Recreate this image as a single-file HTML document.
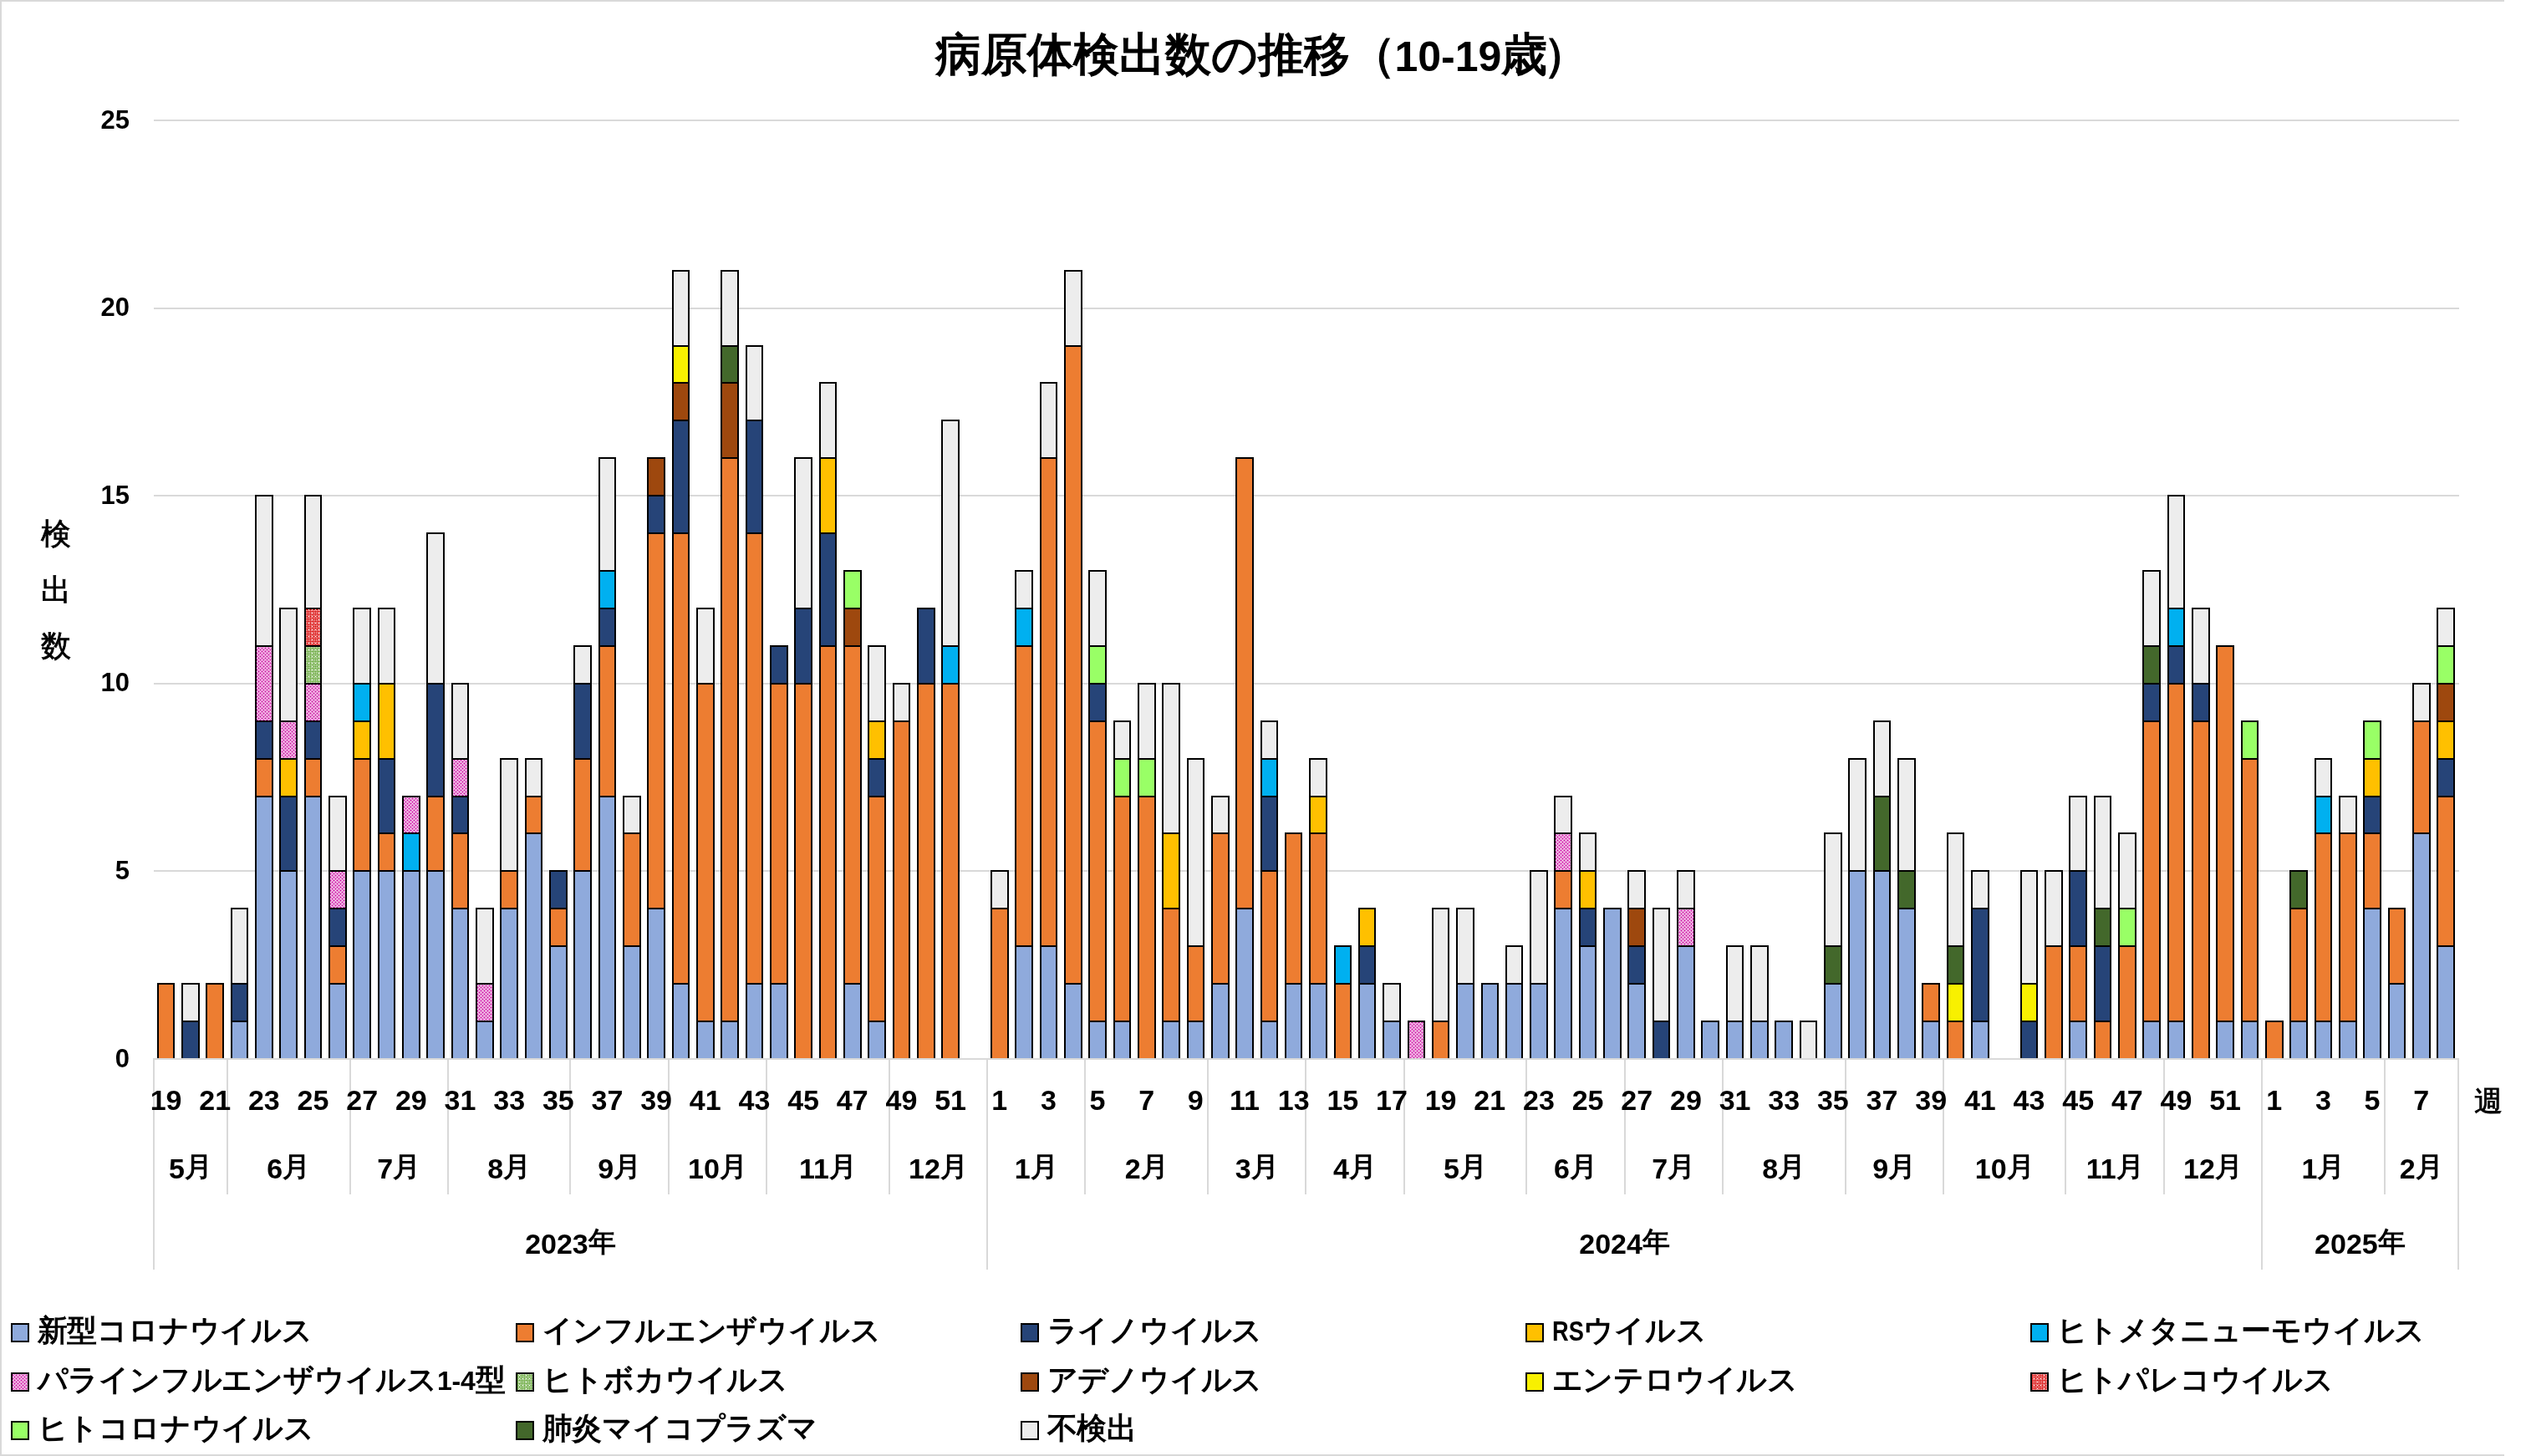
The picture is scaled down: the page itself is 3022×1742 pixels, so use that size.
<!DOCTYPE html>
<html><head><meta charset="utf-8"><title>病原体検出数の推移（10-19歳）</title>
<style>
html,body{margin:0;padding:0;background:#fff;}
body{width:3022px;height:1742px;position:relative;overflow:hidden;font-family:"Liberation Sans",sans-serif;color:#000;}
.t{position:absolute;white-space:nowrap;}
</style></head><body>
<svg width="3022" height="1742" viewBox="0 0 3022 1742" style="position:absolute;left:0;top:0">
<defs>
<pattern id="pPara" width="8" height="8" patternUnits="userSpaceOnUse"><rect width="8" height="8" fill="#D63CB4"/><path d="M0 0h1v1H0zM2 0h1v1H2zM4 0h1v1H4zM6 0h1v1H6zM0 2h1v1H0zM2 2h1v1H2zM4 2h1v1H4zM6 2h1v1H6zM0 4h1v1H0zM2 4h1v1H2zM4 4h1v1H4zM6 4h1v1H6zM0 6h1v1H0zM2 6h1v1H2zM4 6h1v1H4zM6 6h1v1H6zM1 1h1v1H1zM5 1h1v1H5zM3 3h1v1H3zM7 3h1v1H7zM1 5h1v1H1zM5 5h1v1H5zM3 7h1v1H3zM7 7h1v1H7z" fill="#fff"/></pattern>
<pattern id="pBoca" width="8" height="8" patternUnits="userSpaceOnUse"><rect width="8" height="8" fill="#70AD47"/><path d="M0 0h1v1H0zM2 0h1v1H2zM4 0h1v1H4zM6 0h1v1H6zM0 2h1v1H0zM2 2h1v1H2zM4 2h1v1H4zM6 2h1v1H6zM0 4h1v1H0zM2 4h1v1H2zM4 4h1v1H4zM6 4h1v1H6zM0 6h1v1H0zM2 6h1v1H2zM4 6h1v1H4zM6 6h1v1H6zM1 1h1v1H1zM5 1h1v1H5zM5 5h1v1H5z" fill="#fff"/></pattern>
<pattern id="pPareco" width="8" height="8" patternUnits="userSpaceOnUse"><rect width="8" height="8" fill="#DC1A1A"/><path d="M0 0h1v1H0zM2 0h1v1H2zM4 0h1v1H4zM6 0h1v1H6zM0 2h1v1H0zM2 2h1v1H2zM4 2h1v1H4zM6 2h1v1H6zM0 4h1v1H0zM2 4h1v1H2zM4 4h1v1H4zM6 4h1v1H6zM0 6h1v1H0zM2 6h1v1H2zM4 6h1v1H4zM6 6h1v1H6zM1 1h1v1H1zM5 1h1v1H5zM5 5h1v1H5z" fill="#fff"/></pattern>
</defs>
<rect x="0" y="0" width="2996" height="2" fill="#D9D9D9"/>
<rect x="0" y="1740" width="2996" height="2" fill="#D9D9D9"/>
<rect x="0" y="0" width="2" height="1742" fill="#D9D9D9"/>
<rect x="184" y="1041" width="2758" height="2" fill="#D9D9D9"/>
<rect x="184" y="817" width="2758" height="2" fill="#D9D9D9"/>
<rect x="184" y="592" width="2758" height="2" fill="#D9D9D9"/>
<rect x="184" y="368" width="2758" height="2" fill="#D9D9D9"/>
<rect x="184" y="143" width="2758" height="2" fill="#D9D9D9"/>
<rect x="189" y="1177" width="19" height="90" fill="#ED7D31" stroke="#000" stroke-width="2"/>
<rect x="218" y="1222" width="20" height="45" fill="#264478" stroke="#000" stroke-width="2"/>
<rect x="218" y="1177" width="20" height="45" fill="#EDEDED" stroke="#000" stroke-width="2"/>
<rect x="247" y="1177" width="20" height="90" fill="#ED7D31" stroke="#000" stroke-width="2"/>
<rect x="277" y="1222" width="19" height="45" fill="#8FAADC" stroke="#000" stroke-width="2"/>
<rect x="277" y="1177" width="19" height="45" fill="#264478" stroke="#000" stroke-width="2"/>
<rect x="277" y="1087" width="19" height="90" fill="#EDEDED" stroke="#000" stroke-width="2"/>
<rect x="306" y="953" width="20" height="314" fill="#8FAADC" stroke="#000" stroke-width="2"/>
<rect x="306" y="908" width="20" height="45" fill="#ED7D31" stroke="#000" stroke-width="2"/>
<rect x="306" y="863" width="20" height="45" fill="#264478" stroke="#000" stroke-width="2"/>
<rect x="306" y="773" width="20" height="90" fill="url(#pPara)" stroke="#000" stroke-width="2"/>
<rect x="306" y="593" width="20" height="180" fill="#EDEDED" stroke="#000" stroke-width="2"/>
<rect x="335" y="1042" width="20" height="225" fill="#8FAADC" stroke="#000" stroke-width="2"/>
<rect x="335" y="953" width="20" height="89" fill="#264478" stroke="#000" stroke-width="2"/>
<rect x="335" y="908" width="20" height="45" fill="#FFC000" stroke="#000" stroke-width="2"/>
<rect x="335" y="863" width="20" height="45" fill="url(#pPara)" stroke="#000" stroke-width="2"/>
<rect x="335" y="728" width="20" height="135" fill="#EDEDED" stroke="#000" stroke-width="2"/>
<rect x="365" y="953" width="19" height="314" fill="#8FAADC" stroke="#000" stroke-width="2"/>
<rect x="365" y="908" width="19" height="45" fill="#ED7D31" stroke="#000" stroke-width="2"/>
<rect x="365" y="863" width="19" height="45" fill="#264478" stroke="#000" stroke-width="2"/>
<rect x="365" y="818" width="19" height="45" fill="url(#pPara)" stroke="#000" stroke-width="2"/>
<rect x="365" y="773" width="19" height="45" fill="url(#pBoca)" stroke="#000" stroke-width="2"/>
<rect x="365" y="728" width="19" height="45" fill="url(#pPareco)" stroke="#000" stroke-width="2"/>
<rect x="365" y="593" width="19" height="135" fill="#EDEDED" stroke="#000" stroke-width="2"/>
<rect x="394" y="1177" width="20" height="90" fill="#8FAADC" stroke="#000" stroke-width="2"/>
<rect x="394" y="1132" width="20" height="45" fill="#ED7D31" stroke="#000" stroke-width="2"/>
<rect x="394" y="1087" width="20" height="45" fill="#264478" stroke="#000" stroke-width="2"/>
<rect x="394" y="1042" width="20" height="45" fill="url(#pPara)" stroke="#000" stroke-width="2"/>
<rect x="394" y="953" width="20" height="89" fill="#EDEDED" stroke="#000" stroke-width="2"/>
<rect x="423" y="1042" width="20" height="225" fill="#8FAADC" stroke="#000" stroke-width="2"/>
<rect x="423" y="908" width="20" height="134" fill="#ED7D31" stroke="#000" stroke-width="2"/>
<rect x="423" y="863" width="20" height="45" fill="#FFC000" stroke="#000" stroke-width="2"/>
<rect x="423" y="818" width="20" height="45" fill="#00B0F0" stroke="#000" stroke-width="2"/>
<rect x="423" y="728" width="20" height="90" fill="#EDEDED" stroke="#000" stroke-width="2"/>
<rect x="453" y="1042" width="19" height="225" fill="#8FAADC" stroke="#000" stroke-width="2"/>
<rect x="453" y="997" width="19" height="45" fill="#ED7D31" stroke="#000" stroke-width="2"/>
<rect x="453" y="908" width="19" height="89" fill="#264478" stroke="#000" stroke-width="2"/>
<rect x="453" y="818" width="19" height="90" fill="#FFC000" stroke="#000" stroke-width="2"/>
<rect x="453" y="728" width="19" height="90" fill="#EDEDED" stroke="#000" stroke-width="2"/>
<rect x="482" y="1042" width="20" height="225" fill="#8FAADC" stroke="#000" stroke-width="2"/>
<rect x="482" y="997" width="20" height="45" fill="#00B0F0" stroke="#000" stroke-width="2"/>
<rect x="482" y="953" width="20" height="44" fill="url(#pPara)" stroke="#000" stroke-width="2"/>
<rect x="511" y="1042" width="20" height="225" fill="#8FAADC" stroke="#000" stroke-width="2"/>
<rect x="511" y="953" width="20" height="89" fill="#ED7D31" stroke="#000" stroke-width="2"/>
<rect x="511" y="818" width="20" height="135" fill="#264478" stroke="#000" stroke-width="2"/>
<rect x="511" y="638" width="20" height="180" fill="#EDEDED" stroke="#000" stroke-width="2"/>
<rect x="541" y="1087" width="19" height="180" fill="#8FAADC" stroke="#000" stroke-width="2"/>
<rect x="541" y="997" width="19" height="90" fill="#ED7D31" stroke="#000" stroke-width="2"/>
<rect x="541" y="953" width="19" height="44" fill="#264478" stroke="#000" stroke-width="2"/>
<rect x="541" y="908" width="19" height="45" fill="url(#pPara)" stroke="#000" stroke-width="2"/>
<rect x="541" y="818" width="19" height="90" fill="#EDEDED" stroke="#000" stroke-width="2"/>
<rect x="570" y="1222" width="20" height="45" fill="#8FAADC" stroke="#000" stroke-width="2"/>
<rect x="570" y="1177" width="20" height="45" fill="url(#pPara)" stroke="#000" stroke-width="2"/>
<rect x="570" y="1087" width="20" height="90" fill="#EDEDED" stroke="#000" stroke-width="2"/>
<rect x="599" y="1087" width="20" height="180" fill="#8FAADC" stroke="#000" stroke-width="2"/>
<rect x="599" y="1042" width="20" height="45" fill="#ED7D31" stroke="#000" stroke-width="2"/>
<rect x="599" y="908" width="20" height="134" fill="#EDEDED" stroke="#000" stroke-width="2"/>
<rect x="629" y="997" width="19" height="270" fill="#8FAADC" stroke="#000" stroke-width="2"/>
<rect x="629" y="953" width="19" height="44" fill="#ED7D31" stroke="#000" stroke-width="2"/>
<rect x="629" y="908" width="19" height="45" fill="#EDEDED" stroke="#000" stroke-width="2"/>
<rect x="658" y="1132" width="20" height="135" fill="#8FAADC" stroke="#000" stroke-width="2"/>
<rect x="658" y="1087" width="20" height="45" fill="#ED7D31" stroke="#000" stroke-width="2"/>
<rect x="658" y="1042" width="20" height="45" fill="#264478" stroke="#000" stroke-width="2"/>
<rect x="687" y="1042" width="20" height="225" fill="#8FAADC" stroke="#000" stroke-width="2"/>
<rect x="687" y="908" width="20" height="134" fill="#ED7D31" stroke="#000" stroke-width="2"/>
<rect x="687" y="818" width="20" height="90" fill="#264478" stroke="#000" stroke-width="2"/>
<rect x="687" y="773" width="20" height="45" fill="#EDEDED" stroke="#000" stroke-width="2"/>
<rect x="717" y="953" width="19" height="314" fill="#8FAADC" stroke="#000" stroke-width="2"/>
<rect x="717" y="773" width="19" height="180" fill="#ED7D31" stroke="#000" stroke-width="2"/>
<rect x="717" y="728" width="19" height="45" fill="#264478" stroke="#000" stroke-width="2"/>
<rect x="717" y="683" width="19" height="45" fill="#00B0F0" stroke="#000" stroke-width="2"/>
<rect x="717" y="548" width="19" height="135" fill="#EDEDED" stroke="#000" stroke-width="2"/>
<rect x="746" y="1132" width="20" height="135" fill="#8FAADC" stroke="#000" stroke-width="2"/>
<rect x="746" y="997" width="20" height="135" fill="#ED7D31" stroke="#000" stroke-width="2"/>
<rect x="746" y="953" width="20" height="44" fill="#EDEDED" stroke="#000" stroke-width="2"/>
<rect x="775" y="1087" width="20" height="180" fill="#8FAADC" stroke="#000" stroke-width="2"/>
<rect x="775" y="638" width="20" height="449" fill="#ED7D31" stroke="#000" stroke-width="2"/>
<rect x="775" y="593" width="20" height="45" fill="#264478" stroke="#000" stroke-width="2"/>
<rect x="775" y="548" width="20" height="45" fill="#9E480E" stroke="#000" stroke-width="2"/>
<rect x="805" y="1177" width="19" height="90" fill="#8FAADC" stroke="#000" stroke-width="2"/>
<rect x="805" y="638" width="19" height="539" fill="#ED7D31" stroke="#000" stroke-width="2"/>
<rect x="805" y="503" width="19" height="135" fill="#264478" stroke="#000" stroke-width="2"/>
<rect x="805" y="458" width="19" height="45" fill="#9E480E" stroke="#000" stroke-width="2"/>
<rect x="805" y="414" width="19" height="44" fill="#F8F000" stroke="#000" stroke-width="2"/>
<rect x="805" y="324" width="19" height="90" fill="#EDEDED" stroke="#000" stroke-width="2"/>
<rect x="834" y="1222" width="20" height="45" fill="#8FAADC" stroke="#000" stroke-width="2"/>
<rect x="834" y="818" width="20" height="404" fill="#ED7D31" stroke="#000" stroke-width="2"/>
<rect x="834" y="728" width="20" height="90" fill="#EDEDED" stroke="#000" stroke-width="2"/>
<rect x="863" y="1222" width="20" height="45" fill="#8FAADC" stroke="#000" stroke-width="2"/>
<rect x="863" y="548" width="20" height="674" fill="#ED7D31" stroke="#000" stroke-width="2"/>
<rect x="863" y="458" width="20" height="90" fill="#9E480E" stroke="#000" stroke-width="2"/>
<rect x="863" y="414" width="20" height="44" fill="#43682B" stroke="#000" stroke-width="2"/>
<rect x="863" y="324" width="20" height="90" fill="#EDEDED" stroke="#000" stroke-width="2"/>
<rect x="893" y="1177" width="19" height="90" fill="#8FAADC" stroke="#000" stroke-width="2"/>
<rect x="893" y="638" width="19" height="539" fill="#ED7D31" stroke="#000" stroke-width="2"/>
<rect x="893" y="503" width="19" height="135" fill="#264478" stroke="#000" stroke-width="2"/>
<rect x="893" y="414" width="19" height="89" fill="#EDEDED" stroke="#000" stroke-width="2"/>
<rect x="922" y="1177" width="20" height="90" fill="#8FAADC" stroke="#000" stroke-width="2"/>
<rect x="922" y="818" width="20" height="359" fill="#ED7D31" stroke="#000" stroke-width="2"/>
<rect x="922" y="773" width="20" height="45" fill="#264478" stroke="#000" stroke-width="2"/>
<rect x="951" y="818" width="20" height="449" fill="#ED7D31" stroke="#000" stroke-width="2"/>
<rect x="951" y="728" width="20" height="90" fill="#264478" stroke="#000" stroke-width="2"/>
<rect x="951" y="548" width="20" height="180" fill="#EDEDED" stroke="#000" stroke-width="2"/>
<rect x="981" y="773" width="19" height="494" fill="#ED7D31" stroke="#000" stroke-width="2"/>
<rect x="981" y="638" width="19" height="135" fill="#264478" stroke="#000" stroke-width="2"/>
<rect x="981" y="548" width="19" height="90" fill="#FFC000" stroke="#000" stroke-width="2"/>
<rect x="981" y="458" width="19" height="90" fill="#EDEDED" stroke="#000" stroke-width="2"/>
<rect x="1010" y="1177" width="20" height="90" fill="#8FAADC" stroke="#000" stroke-width="2"/>
<rect x="1010" y="773" width="20" height="404" fill="#ED7D31" stroke="#000" stroke-width="2"/>
<rect x="1010" y="728" width="20" height="45" fill="#9E480E" stroke="#000" stroke-width="2"/>
<rect x="1010" y="683" width="20" height="45" fill="#99FF66" stroke="#000" stroke-width="2"/>
<rect x="1039" y="1222" width="20" height="45" fill="#8FAADC" stroke="#000" stroke-width="2"/>
<rect x="1039" y="953" width="20" height="269" fill="#ED7D31" stroke="#000" stroke-width="2"/>
<rect x="1039" y="908" width="20" height="45" fill="#264478" stroke="#000" stroke-width="2"/>
<rect x="1039" y="863" width="20" height="45" fill="#FFC000" stroke="#000" stroke-width="2"/>
<rect x="1039" y="773" width="20" height="90" fill="#EDEDED" stroke="#000" stroke-width="2"/>
<rect x="1069" y="863" width="19" height="404" fill="#ED7D31" stroke="#000" stroke-width="2"/>
<rect x="1069" y="818" width="19" height="45" fill="#EDEDED" stroke="#000" stroke-width="2"/>
<rect x="1098" y="818" width="20" height="449" fill="#ED7D31" stroke="#000" stroke-width="2"/>
<rect x="1098" y="728" width="20" height="90" fill="#264478" stroke="#000" stroke-width="2"/>
<rect x="1127" y="818" width="20" height="449" fill="#ED7D31" stroke="#000" stroke-width="2"/>
<rect x="1127" y="773" width="20" height="45" fill="#00B0F0" stroke="#000" stroke-width="2"/>
<rect x="1127" y="503" width="20" height="270" fill="#EDEDED" stroke="#000" stroke-width="2"/>
<rect x="1186" y="1087" width="20" height="180" fill="#ED7D31" stroke="#000" stroke-width="2"/>
<rect x="1186" y="1042" width="20" height="45" fill="#EDEDED" stroke="#000" stroke-width="2"/>
<rect x="1215" y="1132" width="20" height="135" fill="#8FAADC" stroke="#000" stroke-width="2"/>
<rect x="1215" y="773" width="20" height="359" fill="#ED7D31" stroke="#000" stroke-width="2"/>
<rect x="1215" y="728" width="20" height="45" fill="#00B0F0" stroke="#000" stroke-width="2"/>
<rect x="1215" y="683" width="20" height="45" fill="#EDEDED" stroke="#000" stroke-width="2"/>
<rect x="1245" y="1132" width="19" height="135" fill="#8FAADC" stroke="#000" stroke-width="2"/>
<rect x="1245" y="548" width="19" height="584" fill="#ED7D31" stroke="#000" stroke-width="2"/>
<rect x="1245" y="458" width="19" height="90" fill="#EDEDED" stroke="#000" stroke-width="2"/>
<rect x="1274" y="1177" width="20" height="90" fill="#8FAADC" stroke="#000" stroke-width="2"/>
<rect x="1274" y="414" width="20" height="763" fill="#ED7D31" stroke="#000" stroke-width="2"/>
<rect x="1274" y="324" width="20" height="90" fill="#EDEDED" stroke="#000" stroke-width="2"/>
<rect x="1303" y="1222" width="20" height="45" fill="#8FAADC" stroke="#000" stroke-width="2"/>
<rect x="1303" y="863" width="20" height="359" fill="#ED7D31" stroke="#000" stroke-width="2"/>
<rect x="1303" y="818" width="20" height="45" fill="#264478" stroke="#000" stroke-width="2"/>
<rect x="1303" y="773" width="20" height="45" fill="#99FF66" stroke="#000" stroke-width="2"/>
<rect x="1303" y="683" width="20" height="90" fill="#EDEDED" stroke="#000" stroke-width="2"/>
<rect x="1333" y="1222" width="19" height="45" fill="#8FAADC" stroke="#000" stroke-width="2"/>
<rect x="1333" y="953" width="19" height="269" fill="#ED7D31" stroke="#000" stroke-width="2"/>
<rect x="1333" y="908" width="19" height="45" fill="#99FF66" stroke="#000" stroke-width="2"/>
<rect x="1333" y="863" width="19" height="45" fill="#EDEDED" stroke="#000" stroke-width="2"/>
<rect x="1362" y="953" width="20" height="314" fill="#ED7D31" stroke="#000" stroke-width="2"/>
<rect x="1362" y="908" width="20" height="45" fill="#99FF66" stroke="#000" stroke-width="2"/>
<rect x="1362" y="818" width="20" height="90" fill="#EDEDED" stroke="#000" stroke-width="2"/>
<rect x="1391" y="1222" width="20" height="45" fill="#8FAADC" stroke="#000" stroke-width="2"/>
<rect x="1391" y="1087" width="20" height="135" fill="#ED7D31" stroke="#000" stroke-width="2"/>
<rect x="1391" y="997" width="20" height="90" fill="#FFC000" stroke="#000" stroke-width="2"/>
<rect x="1391" y="818" width="20" height="179" fill="#EDEDED" stroke="#000" stroke-width="2"/>
<rect x="1421" y="1222" width="19" height="45" fill="#8FAADC" stroke="#000" stroke-width="2"/>
<rect x="1421" y="1132" width="19" height="90" fill="#ED7D31" stroke="#000" stroke-width="2"/>
<rect x="1421" y="908" width="19" height="224" fill="#EDEDED" stroke="#000" stroke-width="2"/>
<rect x="1450" y="1177" width="20" height="90" fill="#8FAADC" stroke="#000" stroke-width="2"/>
<rect x="1450" y="997" width="20" height="180" fill="#ED7D31" stroke="#000" stroke-width="2"/>
<rect x="1450" y="953" width="20" height="44" fill="#EDEDED" stroke="#000" stroke-width="2"/>
<rect x="1479" y="1087" width="20" height="180" fill="#8FAADC" stroke="#000" stroke-width="2"/>
<rect x="1479" y="548" width="20" height="539" fill="#ED7D31" stroke="#000" stroke-width="2"/>
<rect x="1509" y="1222" width="19" height="45" fill="#8FAADC" stroke="#000" stroke-width="2"/>
<rect x="1509" y="1042" width="19" height="180" fill="#ED7D31" stroke="#000" stroke-width="2"/>
<rect x="1509" y="953" width="19" height="89" fill="#264478" stroke="#000" stroke-width="2"/>
<rect x="1509" y="908" width="19" height="45" fill="#00B0F0" stroke="#000" stroke-width="2"/>
<rect x="1509" y="863" width="19" height="45" fill="#EDEDED" stroke="#000" stroke-width="2"/>
<rect x="1538" y="1177" width="19" height="90" fill="#8FAADC" stroke="#000" stroke-width="2"/>
<rect x="1538" y="997" width="19" height="180" fill="#ED7D31" stroke="#000" stroke-width="2"/>
<rect x="1567" y="1177" width="20" height="90" fill="#8FAADC" stroke="#000" stroke-width="2"/>
<rect x="1567" y="997" width="20" height="180" fill="#ED7D31" stroke="#000" stroke-width="2"/>
<rect x="1567" y="953" width="20" height="44" fill="#FFC000" stroke="#000" stroke-width="2"/>
<rect x="1567" y="908" width="20" height="45" fill="#EDEDED" stroke="#000" stroke-width="2"/>
<rect x="1597" y="1177" width="19" height="90" fill="#ED7D31" stroke="#000" stroke-width="2"/>
<rect x="1597" y="1132" width="19" height="45" fill="#00B0F0" stroke="#000" stroke-width="2"/>
<rect x="1626" y="1177" width="19" height="90" fill="#8FAADC" stroke="#000" stroke-width="2"/>
<rect x="1626" y="1132" width="19" height="45" fill="#264478" stroke="#000" stroke-width="2"/>
<rect x="1626" y="1087" width="19" height="45" fill="#FFC000" stroke="#000" stroke-width="2"/>
<rect x="1655" y="1222" width="20" height="45" fill="#8FAADC" stroke="#000" stroke-width="2"/>
<rect x="1655" y="1177" width="20" height="45" fill="#EDEDED" stroke="#000" stroke-width="2"/>
<rect x="1685" y="1222" width="19" height="45" fill="url(#pPara)" stroke="#000" stroke-width="2"/>
<rect x="1714" y="1222" width="19" height="45" fill="#ED7D31" stroke="#000" stroke-width="2"/>
<rect x="1714" y="1087" width="19" height="135" fill="#EDEDED" stroke="#000" stroke-width="2"/>
<rect x="1743" y="1177" width="20" height="90" fill="#8FAADC" stroke="#000" stroke-width="2"/>
<rect x="1743" y="1087" width="20" height="90" fill="#EDEDED" stroke="#000" stroke-width="2"/>
<rect x="1773" y="1177" width="19" height="90" fill="#8FAADC" stroke="#000" stroke-width="2"/>
<rect x="1802" y="1177" width="19" height="90" fill="#8FAADC" stroke="#000" stroke-width="2"/>
<rect x="1802" y="1132" width="19" height="45" fill="#EDEDED" stroke="#000" stroke-width="2"/>
<rect x="1831" y="1177" width="20" height="90" fill="#8FAADC" stroke="#000" stroke-width="2"/>
<rect x="1831" y="1042" width="20" height="135" fill="#EDEDED" stroke="#000" stroke-width="2"/>
<rect x="1860" y="1087" width="20" height="180" fill="#8FAADC" stroke="#000" stroke-width="2"/>
<rect x="1860" y="1042" width="20" height="45" fill="#ED7D31" stroke="#000" stroke-width="2"/>
<rect x="1860" y="997" width="20" height="45" fill="url(#pPara)" stroke="#000" stroke-width="2"/>
<rect x="1860" y="953" width="20" height="44" fill="#EDEDED" stroke="#000" stroke-width="2"/>
<rect x="1890" y="1132" width="19" height="135" fill="#8FAADC" stroke="#000" stroke-width="2"/>
<rect x="1890" y="1087" width="19" height="45" fill="#264478" stroke="#000" stroke-width="2"/>
<rect x="1890" y="1042" width="19" height="45" fill="#FFC000" stroke="#000" stroke-width="2"/>
<rect x="1890" y="997" width="19" height="45" fill="#EDEDED" stroke="#000" stroke-width="2"/>
<rect x="1919" y="1087" width="20" height="180" fill="#8FAADC" stroke="#000" stroke-width="2"/>
<rect x="1948" y="1177" width="20" height="90" fill="#8FAADC" stroke="#000" stroke-width="2"/>
<rect x="1948" y="1132" width="20" height="45" fill="#264478" stroke="#000" stroke-width="2"/>
<rect x="1948" y="1087" width="20" height="45" fill="#9E480E" stroke="#000" stroke-width="2"/>
<rect x="1948" y="1042" width="20" height="45" fill="#EDEDED" stroke="#000" stroke-width="2"/>
<rect x="1978" y="1222" width="19" height="45" fill="#264478" stroke="#000" stroke-width="2"/>
<rect x="1978" y="1087" width="19" height="135" fill="#EDEDED" stroke="#000" stroke-width="2"/>
<rect x="2007" y="1132" width="20" height="135" fill="#8FAADC" stroke="#000" stroke-width="2"/>
<rect x="2007" y="1087" width="20" height="45" fill="url(#pPara)" stroke="#000" stroke-width="2"/>
<rect x="2007" y="1042" width="20" height="45" fill="#EDEDED" stroke="#000" stroke-width="2"/>
<rect x="2036" y="1222" width="20" height="45" fill="#8FAADC" stroke="#000" stroke-width="2"/>
<rect x="2066" y="1222" width="19" height="45" fill="#8FAADC" stroke="#000" stroke-width="2"/>
<rect x="2066" y="1132" width="19" height="90" fill="#EDEDED" stroke="#000" stroke-width="2"/>
<rect x="2095" y="1222" width="20" height="45" fill="#8FAADC" stroke="#000" stroke-width="2"/>
<rect x="2095" y="1132" width="20" height="90" fill="#EDEDED" stroke="#000" stroke-width="2"/>
<rect x="2124" y="1222" width="20" height="45" fill="#8FAADC" stroke="#000" stroke-width="2"/>
<rect x="2154" y="1222" width="19" height="45" fill="#EDEDED" stroke="#000" stroke-width="2"/>
<rect x="2183" y="1177" width="20" height="90" fill="#8FAADC" stroke="#000" stroke-width="2"/>
<rect x="2183" y="1132" width="20" height="45" fill="#43682B" stroke="#000" stroke-width="2"/>
<rect x="2183" y="997" width="20" height="135" fill="#EDEDED" stroke="#000" stroke-width="2"/>
<rect x="2212" y="1042" width="20" height="225" fill="#8FAADC" stroke="#000" stroke-width="2"/>
<rect x="2212" y="908" width="20" height="134" fill="#EDEDED" stroke="#000" stroke-width="2"/>
<rect x="2242" y="1042" width="19" height="225" fill="#8FAADC" stroke="#000" stroke-width="2"/>
<rect x="2242" y="953" width="19" height="89" fill="#43682B" stroke="#000" stroke-width="2"/>
<rect x="2242" y="863" width="19" height="90" fill="#EDEDED" stroke="#000" stroke-width="2"/>
<rect x="2271" y="1087" width="20" height="180" fill="#8FAADC" stroke="#000" stroke-width="2"/>
<rect x="2271" y="1042" width="20" height="45" fill="#43682B" stroke="#000" stroke-width="2"/>
<rect x="2271" y="908" width="20" height="134" fill="#EDEDED" stroke="#000" stroke-width="2"/>
<rect x="2300" y="1222" width="20" height="45" fill="#8FAADC" stroke="#000" stroke-width="2"/>
<rect x="2300" y="1177" width="20" height="45" fill="#ED7D31" stroke="#000" stroke-width="2"/>
<rect x="2330" y="1222" width="19" height="45" fill="#ED7D31" stroke="#000" stroke-width="2"/>
<rect x="2330" y="1177" width="19" height="45" fill="#F8F000" stroke="#000" stroke-width="2"/>
<rect x="2330" y="1132" width="19" height="45" fill="#43682B" stroke="#000" stroke-width="2"/>
<rect x="2330" y="997" width="19" height="135" fill="#EDEDED" stroke="#000" stroke-width="2"/>
<rect x="2359" y="1222" width="20" height="45" fill="#8FAADC" stroke="#000" stroke-width="2"/>
<rect x="2359" y="1087" width="20" height="135" fill="#264478" stroke="#000" stroke-width="2"/>
<rect x="2359" y="1042" width="20" height="45" fill="#EDEDED" stroke="#000" stroke-width="2"/>
<rect x="2418" y="1222" width="19" height="45" fill="#264478" stroke="#000" stroke-width="2"/>
<rect x="2418" y="1177" width="19" height="45" fill="#F8F000" stroke="#000" stroke-width="2"/>
<rect x="2418" y="1042" width="19" height="135" fill="#EDEDED" stroke="#000" stroke-width="2"/>
<rect x="2447" y="1132" width="20" height="135" fill="#ED7D31" stroke="#000" stroke-width="2"/>
<rect x="2447" y="1042" width="20" height="90" fill="#EDEDED" stroke="#000" stroke-width="2"/>
<rect x="2476" y="1222" width="20" height="45" fill="#8FAADC" stroke="#000" stroke-width="2"/>
<rect x="2476" y="1132" width="20" height="90" fill="#ED7D31" stroke="#000" stroke-width="2"/>
<rect x="2476" y="1042" width="20" height="90" fill="#264478" stroke="#000" stroke-width="2"/>
<rect x="2476" y="953" width="20" height="89" fill="#EDEDED" stroke="#000" stroke-width="2"/>
<rect x="2506" y="1222" width="19" height="45" fill="#ED7D31" stroke="#000" stroke-width="2"/>
<rect x="2506" y="1132" width="19" height="90" fill="#264478" stroke="#000" stroke-width="2"/>
<rect x="2506" y="1087" width="19" height="45" fill="#43682B" stroke="#000" stroke-width="2"/>
<rect x="2506" y="953" width="19" height="134" fill="#EDEDED" stroke="#000" stroke-width="2"/>
<rect x="2535" y="1132" width="20" height="135" fill="#ED7D31" stroke="#000" stroke-width="2"/>
<rect x="2535" y="1087" width="20" height="45" fill="#99FF66" stroke="#000" stroke-width="2"/>
<rect x="2535" y="997" width="20" height="90" fill="#EDEDED" stroke="#000" stroke-width="2"/>
<rect x="2564" y="1222" width="20" height="45" fill="#8FAADC" stroke="#000" stroke-width="2"/>
<rect x="2564" y="863" width="20" height="359" fill="#ED7D31" stroke="#000" stroke-width="2"/>
<rect x="2564" y="818" width="20" height="45" fill="#264478" stroke="#000" stroke-width="2"/>
<rect x="2564" y="773" width="20" height="45" fill="#43682B" stroke="#000" stroke-width="2"/>
<rect x="2564" y="683" width="20" height="90" fill="#EDEDED" stroke="#000" stroke-width="2"/>
<rect x="2594" y="1222" width="19" height="45" fill="#8FAADC" stroke="#000" stroke-width="2"/>
<rect x="2594" y="818" width="19" height="404" fill="#ED7D31" stroke="#000" stroke-width="2"/>
<rect x="2594" y="773" width="19" height="45" fill="#264478" stroke="#000" stroke-width="2"/>
<rect x="2594" y="728" width="19" height="45" fill="#00B0F0" stroke="#000" stroke-width="2"/>
<rect x="2594" y="593" width="19" height="135" fill="#EDEDED" stroke="#000" stroke-width="2"/>
<rect x="2623" y="863" width="20" height="404" fill="#ED7D31" stroke="#000" stroke-width="2"/>
<rect x="2623" y="818" width="20" height="45" fill="#264478" stroke="#000" stroke-width="2"/>
<rect x="2623" y="728" width="20" height="90" fill="#EDEDED" stroke="#000" stroke-width="2"/>
<rect x="2652" y="1222" width="20" height="45" fill="#8FAADC" stroke="#000" stroke-width="2"/>
<rect x="2652" y="773" width="20" height="449" fill="#ED7D31" stroke="#000" stroke-width="2"/>
<rect x="2682" y="1222" width="19" height="45" fill="#8FAADC" stroke="#000" stroke-width="2"/>
<rect x="2682" y="908" width="19" height="314" fill="#ED7D31" stroke="#000" stroke-width="2"/>
<rect x="2682" y="863" width="19" height="45" fill="#99FF66" stroke="#000" stroke-width="2"/>
<rect x="2711" y="1222" width="20" height="45" fill="#ED7D31" stroke="#000" stroke-width="2"/>
<rect x="2740" y="1222" width="20" height="45" fill="#8FAADC" stroke="#000" stroke-width="2"/>
<rect x="2740" y="1087" width="20" height="135" fill="#ED7D31" stroke="#000" stroke-width="2"/>
<rect x="2740" y="1042" width="20" height="45" fill="#43682B" stroke="#000" stroke-width="2"/>
<rect x="2770" y="1222" width="19" height="45" fill="#8FAADC" stroke="#000" stroke-width="2"/>
<rect x="2770" y="997" width="19" height="225" fill="#ED7D31" stroke="#000" stroke-width="2"/>
<rect x="2770" y="953" width="19" height="44" fill="#00B0F0" stroke="#000" stroke-width="2"/>
<rect x="2770" y="908" width="19" height="45" fill="#EDEDED" stroke="#000" stroke-width="2"/>
<rect x="2799" y="1222" width="20" height="45" fill="#8FAADC" stroke="#000" stroke-width="2"/>
<rect x="2799" y="997" width="20" height="225" fill="#ED7D31" stroke="#000" stroke-width="2"/>
<rect x="2799" y="953" width="20" height="44" fill="#EDEDED" stroke="#000" stroke-width="2"/>
<rect x="2828" y="1087" width="20" height="180" fill="#8FAADC" stroke="#000" stroke-width="2"/>
<rect x="2828" y="997" width="20" height="90" fill="#ED7D31" stroke="#000" stroke-width="2"/>
<rect x="2828" y="953" width="20" height="44" fill="#264478" stroke="#000" stroke-width="2"/>
<rect x="2828" y="908" width="20" height="45" fill="#FFC000" stroke="#000" stroke-width="2"/>
<rect x="2828" y="863" width="20" height="45" fill="#99FF66" stroke="#000" stroke-width="2"/>
<rect x="2858" y="1177" width="19" height="90" fill="#8FAADC" stroke="#000" stroke-width="2"/>
<rect x="2858" y="1087" width="19" height="90" fill="#ED7D31" stroke="#000" stroke-width="2"/>
<rect x="2887" y="997" width="20" height="270" fill="#8FAADC" stroke="#000" stroke-width="2"/>
<rect x="2887" y="863" width="20" height="134" fill="#ED7D31" stroke="#000" stroke-width="2"/>
<rect x="2887" y="818" width="20" height="45" fill="#EDEDED" stroke="#000" stroke-width="2"/>
<rect x="2916" y="1132" width="20" height="135" fill="#8FAADC" stroke="#000" stroke-width="2"/>
<rect x="2916" y="953" width="20" height="179" fill="#ED7D31" stroke="#000" stroke-width="2"/>
<rect x="2916" y="908" width="20" height="45" fill="#264478" stroke="#000" stroke-width="2"/>
<rect x="2916" y="863" width="20" height="45" fill="#FFC000" stroke="#000" stroke-width="2"/>
<rect x="2916" y="818" width="20" height="45" fill="#9E480E" stroke="#000" stroke-width="2"/>
<rect x="2916" y="773" width="20" height="45" fill="#99FF66" stroke="#000" stroke-width="2"/>
<rect x="2916" y="728" width="20" height="45" fill="#EDEDED" stroke="#000" stroke-width="2"/>
<rect x="183" y="1266" width="2759" height="2" fill="#D9D9D9"/>
<rect x="271" y="1268" width="2" height="161" fill="#D9D9D9"/>
<rect x="418" y="1268" width="2" height="161" fill="#D9D9D9"/>
<rect x="535" y="1268" width="2" height="161" fill="#D9D9D9"/>
<rect x="681" y="1268" width="2" height="161" fill="#D9D9D9"/>
<rect x="799" y="1268" width="2" height="161" fill="#D9D9D9"/>
<rect x="916" y="1268" width="2" height="161" fill="#D9D9D9"/>
<rect x="1063" y="1268" width="2" height="161" fill="#D9D9D9"/>
<rect x="1297" y="1268" width="2" height="161" fill="#D9D9D9"/>
<rect x="1444" y="1268" width="2" height="161" fill="#D9D9D9"/>
<rect x="1561" y="1268" width="2" height="161" fill="#D9D9D9"/>
<rect x="1679" y="1268" width="2" height="161" fill="#D9D9D9"/>
<rect x="1825" y="1268" width="2" height="161" fill="#D9D9D9"/>
<rect x="1943" y="1268" width="2" height="161" fill="#D9D9D9"/>
<rect x="2060" y="1268" width="2" height="161" fill="#D9D9D9"/>
<rect x="2207" y="1268" width="2" height="161" fill="#D9D9D9"/>
<rect x="2324" y="1268" width="2" height="161" fill="#D9D9D9"/>
<rect x="2470" y="1268" width="2" height="161" fill="#D9D9D9"/>
<rect x="2588" y="1268" width="2" height="161" fill="#D9D9D9"/>
<rect x="2852" y="1268" width="2" height="161" fill="#D9D9D9"/>
<rect x="183" y="1268" width="2" height="251" fill="#D9D9D9"/>
<rect x="1180" y="1268" width="2" height="251" fill="#D9D9D9"/>
<rect x="2705" y="1268" width="2" height="251" fill="#D9D9D9"/>
<rect x="2940" y="1268" width="2" height="251" fill="#D9D9D9"/>
<rect x="14" y="1584" width="20" height="21" fill="#8FAADC" stroke="#000" stroke-width="2"/>
<rect x="618" y="1584" width="20" height="21" fill="#ED7D31" stroke="#000" stroke-width="2"/>
<rect x="1222" y="1584" width="20" height="21" fill="#264478" stroke="#000" stroke-width="2"/>
<rect x="1826" y="1584" width="20" height="21" fill="#FFC000" stroke="#000" stroke-width="2"/>
<rect x="2430" y="1584" width="20" height="21" fill="#00B0F0" stroke="#000" stroke-width="2"/>
<rect x="14" y="1643" width="20" height="21" fill="url(#pPara)" stroke="#000" stroke-width="2"/>
<rect x="618" y="1643" width="20" height="21" fill="url(#pBoca)" stroke="#000" stroke-width="2"/>
<rect x="1222" y="1643" width="20" height="21" fill="#9E480E" stroke="#000" stroke-width="2"/>
<rect x="1826" y="1643" width="20" height="21" fill="#F8F000" stroke="#000" stroke-width="2"/>
<rect x="2430" y="1643" width="20" height="21" fill="url(#pPareco)" stroke="#000" stroke-width="2"/>
<rect x="14" y="1701" width="20" height="21" fill="#99FF66" stroke="#000" stroke-width="2"/>
<rect x="618" y="1701" width="20" height="21" fill="#43682B" stroke="#000" stroke-width="2"/>
<rect x="1222" y="1701" width="20" height="21" fill="#EDEDED" stroke="#000" stroke-width="2"/>
</svg>
<div style="position:absolute;left:0;top:0;width:3022px;height:1742px;will-change:transform">
<div class="t" style="left:1119px;top:9.5px;width:1000px;height:110px;line-height:110px;font-size:55px;font-weight:bold;text-align:left;">病原体検出数の推移（<span style="font-size:50px;position:relative;top:1.5px;margin-left:-1.5px">10-19</span>歳<span style="margin-left:-5px">）</span></div>
<div class="t" style="left:55px;top:1235.5px;width:100px;height:62px;line-height:62px;font-size:31px;font-weight:bold;text-align:right;">0</div>
<div class="t" style="left:55px;top:1010.9px;width:100px;height:62px;line-height:62px;font-size:31px;font-weight:bold;text-align:right;">5</div>
<div class="t" style="left:55px;top:786.3px;width:100px;height:62px;line-height:62px;font-size:31px;font-weight:bold;text-align:right;">10</div>
<div class="t" style="left:55px;top:561.7px;width:100px;height:62px;line-height:62px;font-size:31px;font-weight:bold;text-align:right;">15</div>
<div class="t" style="left:55px;top:337.1px;width:100px;height:62px;line-height:62px;font-size:31px;font-weight:bold;text-align:right;">20</div>
<div class="t" style="left:55px;top:112.5px;width:100px;height:62px;line-height:62px;font-size:31px;font-weight:bold;text-align:right;">25</div>
<div class="t" style="left:37.2px;top:602.5px;width:60px;height:72px;line-height:72px;font-size:36px;font-weight:normal;text-align:center;-webkit-text-stroke:0.8px #000;">検</div>
<div class="t" style="left:37.2px;top:669.7px;width:60px;height:72px;line-height:72px;font-size:36px;font-weight:normal;text-align:center;-webkit-text-stroke:0.8px #000;">出</div>
<div class="t" style="left:37.2px;top:736.6px;width:60px;height:72px;line-height:72px;font-size:36px;font-weight:normal;text-align:center;-webkit-text-stroke:0.8px #000;">数</div>
<div class="t" style="left:168.56px;top:1282px;width:60px;height:68px;line-height:68px;font-size:34px;font-weight:bold;text-align:center;">19</div>
<div class="t" style="left:227.22px;top:1282px;width:60px;height:68px;line-height:68px;font-size:34px;font-weight:bold;text-align:center;">21</div>
<div class="t" style="left:285.88px;top:1282px;width:60px;height:68px;line-height:68px;font-size:34px;font-weight:bold;text-align:center;">23</div>
<div class="t" style="left:344.53px;top:1282px;width:60px;height:68px;line-height:68px;font-size:34px;font-weight:bold;text-align:center;">25</div>
<div class="t" style="left:403.19px;top:1282px;width:60px;height:68px;line-height:68px;font-size:34px;font-weight:bold;text-align:center;">27</div>
<div class="t" style="left:461.84px;top:1282px;width:60px;height:68px;line-height:68px;font-size:34px;font-weight:bold;text-align:center;">29</div>
<div class="t" style="left:520.5px;top:1282px;width:60px;height:68px;line-height:68px;font-size:34px;font-weight:bold;text-align:center;">31</div>
<div class="t" style="left:579.16px;top:1282px;width:60px;height:68px;line-height:68px;font-size:34px;font-weight:bold;text-align:center;">33</div>
<div class="t" style="left:637.81px;top:1282px;width:60px;height:68px;line-height:68px;font-size:34px;font-weight:bold;text-align:center;">35</div>
<div class="t" style="left:696.47px;top:1282px;width:60px;height:68px;line-height:68px;font-size:34px;font-weight:bold;text-align:center;">37</div>
<div class="t" style="left:755.12px;top:1282px;width:60px;height:68px;line-height:68px;font-size:34px;font-weight:bold;text-align:center;">39</div>
<div class="t" style="left:813.78px;top:1282px;width:60px;height:68px;line-height:68px;font-size:34px;font-weight:bold;text-align:center;">41</div>
<div class="t" style="left:872.44px;top:1282px;width:60px;height:68px;line-height:68px;font-size:34px;font-weight:bold;text-align:center;">43</div>
<div class="t" style="left:931.09px;top:1282px;width:60px;height:68px;line-height:68px;font-size:34px;font-weight:bold;text-align:center;">45</div>
<div class="t" style="left:989.75px;top:1282px;width:60px;height:68px;line-height:68px;font-size:34px;font-weight:bold;text-align:center;">47</div>
<div class="t" style="left:1048.4px;top:1282px;width:60px;height:68px;line-height:68px;font-size:34px;font-weight:bold;text-align:center;">49</div>
<div class="t" style="left:1107.06px;top:1282px;width:60px;height:68px;line-height:68px;font-size:34px;font-weight:bold;text-align:center;">51</div>
<div class="t" style="left:1165.72px;top:1282px;width:60px;height:68px;line-height:68px;font-size:34px;font-weight:bold;text-align:center;">1</div>
<div class="t" style="left:1224.37px;top:1282px;width:60px;height:68px;line-height:68px;font-size:34px;font-weight:bold;text-align:center;">3</div>
<div class="t" style="left:1283.03px;top:1282px;width:60px;height:68px;line-height:68px;font-size:34px;font-weight:bold;text-align:center;">5</div>
<div class="t" style="left:1341.68px;top:1282px;width:60px;height:68px;line-height:68px;font-size:34px;font-weight:bold;text-align:center;">7</div>
<div class="t" style="left:1400.34px;top:1282px;width:60px;height:68px;line-height:68px;font-size:34px;font-weight:bold;text-align:center;">9</div>
<div class="t" style="left:1459px;top:1282px;width:60px;height:68px;line-height:68px;font-size:34px;font-weight:bold;text-align:center;">11</div>
<div class="t" style="left:1517.65px;top:1282px;width:60px;height:68px;line-height:68px;font-size:34px;font-weight:bold;text-align:center;">13</div>
<div class="t" style="left:1576.31px;top:1282px;width:60px;height:68px;line-height:68px;font-size:34px;font-weight:bold;text-align:center;">15</div>
<div class="t" style="left:1634.96px;top:1282px;width:60px;height:68px;line-height:68px;font-size:34px;font-weight:bold;text-align:center;">17</div>
<div class="t" style="left:1693.62px;top:1282px;width:60px;height:68px;line-height:68px;font-size:34px;font-weight:bold;text-align:center;">19</div>
<div class="t" style="left:1752.28px;top:1282px;width:60px;height:68px;line-height:68px;font-size:34px;font-weight:bold;text-align:center;">21</div>
<div class="t" style="left:1810.93px;top:1282px;width:60px;height:68px;line-height:68px;font-size:34px;font-weight:bold;text-align:center;">23</div>
<div class="t" style="left:1869.59px;top:1282px;width:60px;height:68px;line-height:68px;font-size:34px;font-weight:bold;text-align:center;">25</div>
<div class="t" style="left:1928.24px;top:1282px;width:60px;height:68px;line-height:68px;font-size:34px;font-weight:bold;text-align:center;">27</div>
<div class="t" style="left:1986.9px;top:1282px;width:60px;height:68px;line-height:68px;font-size:34px;font-weight:bold;text-align:center;">29</div>
<div class="t" style="left:2045.56px;top:1282px;width:60px;height:68px;line-height:68px;font-size:34px;font-weight:bold;text-align:center;">31</div>
<div class="t" style="left:2104.21px;top:1282px;width:60px;height:68px;line-height:68px;font-size:34px;font-weight:bold;text-align:center;">33</div>
<div class="t" style="left:2162.87px;top:1282px;width:60px;height:68px;line-height:68px;font-size:34px;font-weight:bold;text-align:center;">35</div>
<div class="t" style="left:2221.52px;top:1282px;width:60px;height:68px;line-height:68px;font-size:34px;font-weight:bold;text-align:center;">37</div>
<div class="t" style="left:2280.18px;top:1282px;width:60px;height:68px;line-height:68px;font-size:34px;font-weight:bold;text-align:center;">39</div>
<div class="t" style="left:2338.84px;top:1282px;width:60px;height:68px;line-height:68px;font-size:34px;font-weight:bold;text-align:center;">41</div>
<div class="t" style="left:2397.49px;top:1282px;width:60px;height:68px;line-height:68px;font-size:34px;font-weight:bold;text-align:center;">43</div>
<div class="t" style="left:2456.15px;top:1282px;width:60px;height:68px;line-height:68px;font-size:34px;font-weight:bold;text-align:center;">45</div>
<div class="t" style="left:2514.8px;top:1282px;width:60px;height:68px;line-height:68px;font-size:34px;font-weight:bold;text-align:center;">47</div>
<div class="t" style="left:2573.46px;top:1282px;width:60px;height:68px;line-height:68px;font-size:34px;font-weight:bold;text-align:center;">49</div>
<div class="t" style="left:2632.12px;top:1282px;width:60px;height:68px;line-height:68px;font-size:34px;font-weight:bold;text-align:center;">51</div>
<div class="t" style="left:2690.77px;top:1282px;width:60px;height:68px;line-height:68px;font-size:34px;font-weight:bold;text-align:center;">1</div>
<div class="t" style="left:2749.43px;top:1282px;width:60px;height:68px;line-height:68px;font-size:34px;font-weight:bold;text-align:center;">3</div>
<div class="t" style="left:2808.08px;top:1282px;width:60px;height:68px;line-height:68px;font-size:34px;font-weight:bold;text-align:center;">5</div>
<div class="t" style="left:2866.74px;top:1282px;width:60px;height:68px;line-height:68px;font-size:34px;font-weight:bold;text-align:center;">7</div>
<div class="t" style="left:167.89px;top:1362.4px;width:120px;height:66px;line-height:66px;font-size:33px;font-weight:bold;text-align:center;"><span style="font-size:34px;position:relative;top:2.5px">5</span>月</div>
<div class="t" style="left:285.2px;top:1362.4px;width:120px;height:66px;line-height:66px;font-size:33px;font-weight:bold;text-align:center;"><span style="font-size:34px;position:relative;top:2.5px">6</span>月</div>
<div class="t" style="left:417.18px;top:1362.4px;width:120px;height:66px;line-height:66px;font-size:33px;font-weight:bold;text-align:center;"><span style="font-size:34px;position:relative;top:2.5px">7</span>月</div>
<div class="t" style="left:549.16px;top:1362.4px;width:120px;height:66px;line-height:66px;font-size:33px;font-weight:bold;text-align:center;"><span style="font-size:34px;position:relative;top:2.5px">8</span>月</div>
<div class="t" style="left:681.13px;top:1362.4px;width:120px;height:66px;line-height:66px;font-size:33px;font-weight:bold;text-align:center;"><span style="font-size:34px;position:relative;top:2.5px">9</span>月</div>
<div class="t" style="left:798.44px;top:1362.4px;width:120px;height:66px;line-height:66px;font-size:33px;font-weight:bold;text-align:center;"><span style="font-size:34px;position:relative;top:2.5px">10</span>月</div>
<div class="t" style="left:930.42px;top:1362.4px;width:120px;height:66px;line-height:66px;font-size:33px;font-weight:bold;text-align:center;"><span style="font-size:34px;position:relative;top:2.5px">11</span>月</div>
<div class="t" style="left:1062.4px;top:1362.4px;width:120px;height:66px;line-height:66px;font-size:33px;font-weight:bold;text-align:center;"><span style="font-size:34px;position:relative;top:2.5px">12</span>月</div>
<div class="t" style="left:1179.71px;top:1362.4px;width:120px;height:66px;line-height:66px;font-size:33px;font-weight:bold;text-align:center;"><span style="font-size:34px;position:relative;top:2.5px">1</span>月</div>
<div class="t" style="left:1311.68px;top:1362.4px;width:120px;height:66px;line-height:66px;font-size:33px;font-weight:bold;text-align:center;"><span style="font-size:34px;position:relative;top:2.5px">2</span>月</div>
<div class="t" style="left:1443.66px;top:1362.4px;width:120px;height:66px;line-height:66px;font-size:33px;font-weight:bold;text-align:center;"><span style="font-size:34px;position:relative;top:2.5px">3</span>月</div>
<div class="t" style="left:1560.97px;top:1362.4px;width:120px;height:66px;line-height:66px;font-size:33px;font-weight:bold;text-align:center;"><span style="font-size:34px;position:relative;top:2.5px">4</span>月</div>
<div class="t" style="left:1692.95px;top:1362.4px;width:120px;height:66px;line-height:66px;font-size:33px;font-weight:bold;text-align:center;"><span style="font-size:34px;position:relative;top:2.5px">5</span>月</div>
<div class="t" style="left:1824.92px;top:1362.4px;width:120px;height:66px;line-height:66px;font-size:33px;font-weight:bold;text-align:center;"><span style="font-size:34px;position:relative;top:2.5px">6</span>月</div>
<div class="t" style="left:1942.24px;top:1362.4px;width:120px;height:66px;line-height:66px;font-size:33px;font-weight:bold;text-align:center;"><span style="font-size:34px;position:relative;top:2.5px">7</span>月</div>
<div class="t" style="left:2074.21px;top:1362.4px;width:120px;height:66px;line-height:66px;font-size:33px;font-weight:bold;text-align:center;"><span style="font-size:34px;position:relative;top:2.5px">8</span>月</div>
<div class="t" style="left:2206.19px;top:1362.4px;width:120px;height:66px;line-height:66px;font-size:33px;font-weight:bold;text-align:center;"><span style="font-size:34px;position:relative;top:2.5px">9</span>月</div>
<div class="t" style="left:2338.16px;top:1362.4px;width:120px;height:66px;line-height:66px;font-size:33px;font-weight:bold;text-align:center;"><span style="font-size:34px;position:relative;top:2.5px">10</span>月</div>
<div class="t" style="left:2470.14px;top:1362.4px;width:120px;height:66px;line-height:66px;font-size:33px;font-weight:bold;text-align:center;"><span style="font-size:34px;position:relative;top:2.5px">11</span>月</div>
<div class="t" style="left:2587.45px;top:1362.4px;width:120px;height:66px;line-height:66px;font-size:33px;font-weight:bold;text-align:center;"><span style="font-size:34px;position:relative;top:2.5px">12</span>月</div>
<div class="t" style="left:2719.43px;top:1362.4px;width:120px;height:66px;line-height:66px;font-size:33px;font-weight:bold;text-align:center;"><span style="font-size:34px;position:relative;top:2.5px">1</span>月</div>
<div class="t" style="left:2836.74px;top:1362.4px;width:120px;height:66px;line-height:66px;font-size:33px;font-weight:bold;text-align:center;"><span style="font-size:34px;position:relative;top:2.5px">2</span>月</div>
<div class="t" style="left:582.48px;top:1452px;width:200px;height:66px;line-height:66px;font-size:33px;font-weight:bold;text-align:center;"><span style="font-size:34px;position:relative;top:2.5px">2023</span>年</div>
<div class="t" style="left:1843.58px;top:1452px;width:200px;height:66px;line-height:66px;font-size:33px;font-weight:bold;text-align:center;"><span style="font-size:34px;position:relative;top:2.5px">2024</span>年</div>
<div class="t" style="left:2723.42px;top:1452px;width:200px;height:66px;line-height:66px;font-size:33px;font-weight:bold;text-align:center;"><span style="font-size:34px;position:relative;top:2.5px">2025</span>年</div>
<div class="t" style="left:2946.8px;top:1283.3px;width:60px;height:68px;line-height:68px;font-size:34px;font-weight:normal;text-align:center;-webkit-text-stroke:0.8px #000;">週</div>
<div class="t" style="left:44.5px;top:1555.5px;width:590px;height:72px;line-height:72px;font-size:36px;font-weight:bold;text-align:left;letter-spacing:-0.2px;">新型コロナウイルス</div>
<div class="t" style="left:648.5px;top:1555.5px;width:590px;height:72px;line-height:72px;font-size:36px;font-weight:bold;text-align:left;letter-spacing:-0.2px;">インフルエンザウイルス</div>
<div class="t" style="left:1252.5px;top:1555.5px;width:590px;height:72px;line-height:72px;font-size:36px;font-weight:bold;text-align:left;letter-spacing:-0.2px;">ライノウイルス</div>
<div class="t" style="left:1856.5px;top:1555.5px;width:590px;height:72px;line-height:72px;font-size:36px;font-weight:bold;text-align:left;letter-spacing:-0.2px;"><span style="display:inline-block;font-size:34px;transform:scaleX(0.8);transform-origin:0 0;margin-right:-9.4px;letter-spacing:0">RS</span>ウイルス</div>
<div class="t" style="left:2460.5px;top:1555.5px;width:590px;height:72px;line-height:72px;font-size:36px;font-weight:bold;text-align:left;letter-spacing:-0.2px;">ヒトメタニューモウイルス</div>
<div class="t" style="left:44.5px;top:1614.5px;width:590px;height:72px;line-height:72px;font-size:36px;font-weight:bold;text-align:left;letter-spacing:-0.2px;">パラインフルエンザウイルス<span style="font-size:32px">1-4</span>型</div>
<div class="t" style="left:648.5px;top:1614.5px;width:590px;height:72px;line-height:72px;font-size:36px;font-weight:bold;text-align:left;letter-spacing:-0.2px;">ヒトボカウイルス</div>
<div class="t" style="left:1252.5px;top:1614.5px;width:590px;height:72px;line-height:72px;font-size:36px;font-weight:bold;text-align:left;letter-spacing:-0.2px;">アデノウイルス</div>
<div class="t" style="left:1856.5px;top:1614.5px;width:590px;height:72px;line-height:72px;font-size:36px;font-weight:bold;text-align:left;letter-spacing:-0.2px;">エンテロウイルス</div>
<div class="t" style="left:2460.5px;top:1614.5px;width:590px;height:72px;line-height:72px;font-size:36px;font-weight:bold;text-align:left;letter-spacing:-0.2px;">ヒトパレコウイルス</div>
<div class="t" style="left:44.5px;top:1672.5px;width:590px;height:72px;line-height:72px;font-size:36px;font-weight:bold;text-align:left;letter-spacing:-0.2px;">ヒトコロナウイルス</div>
<div class="t" style="left:648.5px;top:1672.5px;width:590px;height:72px;line-height:72px;font-size:36px;font-weight:bold;text-align:left;letter-spacing:-0.2px;">肺炎マイコプラズマ</div>
<div class="t" style="left:1252.5px;top:1672.5px;width:590px;height:72px;line-height:72px;font-size:36px;font-weight:bold;text-align:left;letter-spacing:-0.2px;">不検出</div>
</div>
</body></html>
